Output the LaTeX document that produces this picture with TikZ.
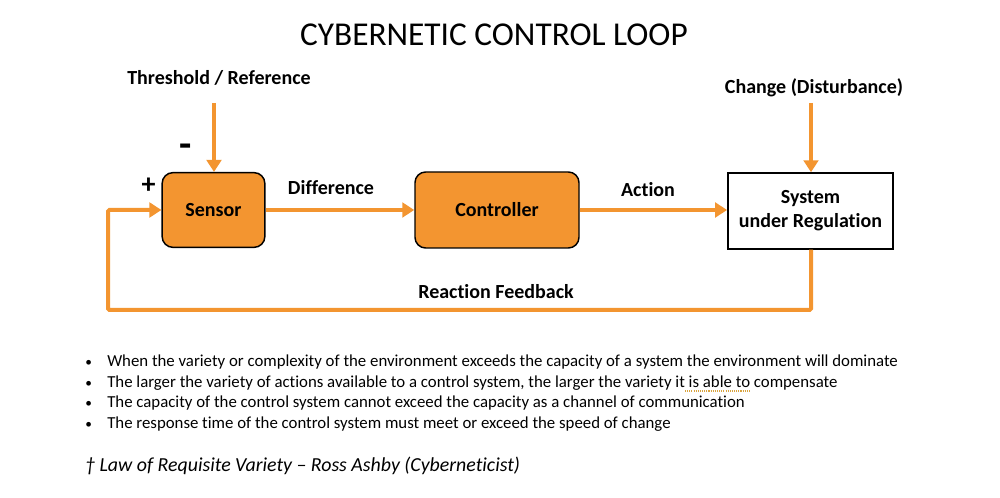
\documentclass[tikz,border=0pt]{standalone}
\usepackage{fontspec}
\setmainfont{Carlito}[Ligatures=NoCommon]
\usetikzlibrary{arrows.meta}
\definecolor{org}{HTML}{F39530}
\definecolor{spell}{HTML}{D9A441}
\begin{document}
\begin{tikzpicture}[x=0.75pt,y=-0.75pt,
  flow/.style={draw=org,line width=3pt,-{Triangle[length=9pt,width=11pt]}},
  obox/.style={draw=black,line width=1.1pt,fill=org,rounded corners=8pt,inner sep=0pt,font=\fontsize{15}{18}\selectfont\bfseries},
  wbox/.style={draw=black,line width=1.1pt,fill=white,inner sep=0pt,align=center,font=\fontsize{15}{18}\selectfont\bfseries},
  lbl/.style={inner sep=0pt,font=\fontsize{15}{18}\selectfont\bfseries},
  bul/.style={inner sep=0pt,anchor=base west,font=\fontsize{12.6}{15}\selectfont}
]
\useasboundingbox (0,0) rectangle (1000,498);
\node[inner sep=0pt,font=\fontsize{25}{30}\selectfont] (title) at (494,35) {CYBERNETIC CONTROL LOOP};

\node[obox,minimum width=77pt,minimum height=56pt] (sensor) at (213.5,210) {Sensor};
\node[obox,minimum width=123pt,minimum height=57pt] (ctrl) at (497,210) {Controller};
\node[wbox,minimum width=124pt,minimum height=57pt] (sys) at (810.5,211) {System\\under Regulation};

\node[lbl] (thr) at (219,78) {Threshold / Reference};
\node[lbl] (chg) at (814,88) {Change (Disturbance)};
\node[lbl] (diff) at (331,188) {Difference};
\node[lbl] (act) at (648,190) {Action};
\node[lbl] (rf) at (496,292) {Reaction Feedback};
\node[inner sep=0pt,anchor=base,font=\fontsize{30}{30}\selectfont\bfseries] (minus) at (185.5,157.5) {-};
\node[inner sep=0pt,font=\fontsize{21}{24}\selectfont\bfseries] (plus) at (148.5,186) {+};

\coordinate (thrs) at (214,103);
\coordinate (chgs) at (811,103);
\coordinate (c1) at (811,310);
\coordinate (c2) at (108,310);
\coordinate (c3) at (108,210);

\draw[flow] (thrs) -- (thrs |- sensor.north);
\draw[flow] (chgs) -- (chgs |- sys.north);
\draw[flow] (sensor.east) -- (ctrl.west);
\draw[flow] (ctrl.east) -- (ctrl.east -| sys.west);
\draw[flow,rounded corners=1pt] (c1 |- sys.south) -- (c1) -- (c2) -- (c3) -- (sensor.west);

\node[bul] (b1) at (107,367) {When the variety or complexity of the environment exceeds the capacity of a system the environment will dominate};
\node[bul] (b2) at (107,387.5) {The larger the variety of actions available to a control system, the larger the variety it is able to compensate};
\node[bul] (b3) at (107,408) {The capacity of the control system cannot exceed the capacity as a channel of communication};
\node[bul] (b4) at (107,428.5) {The response time of the control system must meet or exceed the speed of change};
\coordinate (u1) at (685,391);
\coordinate (u2) at (751,391);
\draw[spell,line width=0.9pt,dash pattern=on 0.8pt off 0.8pt] (u1) -- (u2);
\foreach \y/\n in {367/d1,387.5/d2,408/d3,428.5/d4}
  \node[bul,font=\fontsize{10}{12}\selectfont] (\n) at (85,\y) {\textbullet};
\node[inner sep=0pt,anchor=base west,font=\fontsize{14.9}{18}\selectfont\itshape] (fn) at (85,471.5) {† Law of Requisite Variety – Ross Ashby (Cyberneticist)};
\end{tikzpicture}
\end{document}
